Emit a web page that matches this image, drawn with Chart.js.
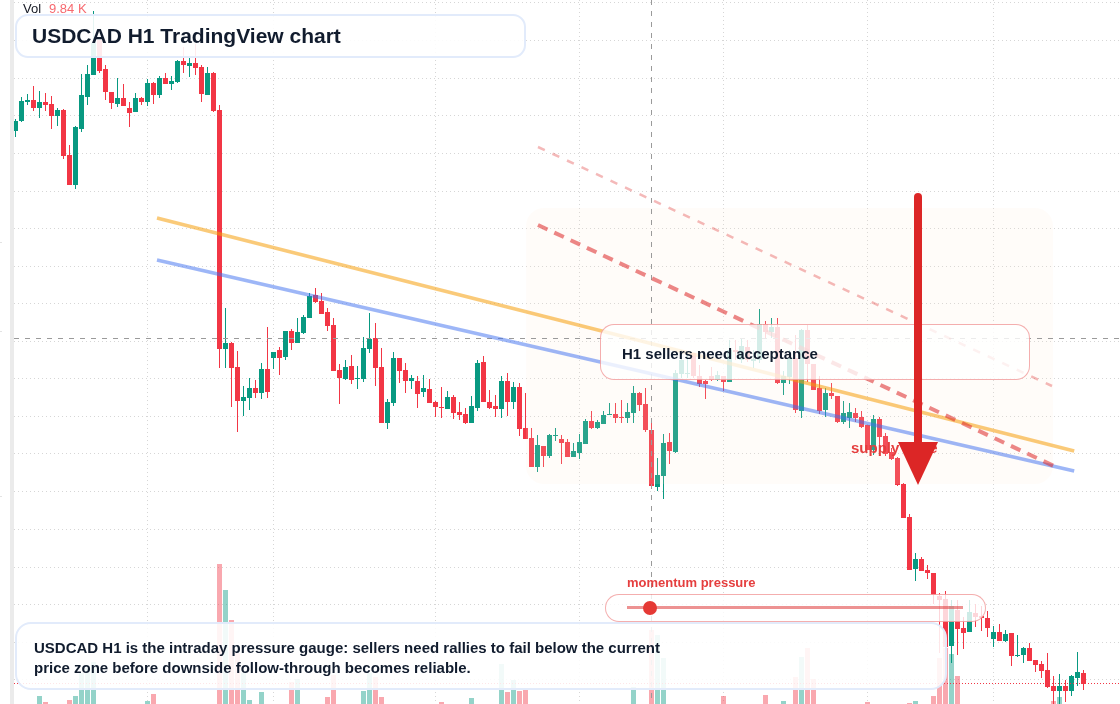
<!DOCTYPE html>
<html>
<head>
<meta charset="utf-8">
<title>USDCAD H1 TradingView chart</title>
<script src="https://cdn.jsdelivr.net/npm/chart.js@4/dist/chart.umd.min.js"></script>
<style>
  html, body { margin: 0; padding: 0; background: #fff; overflow: hidden; }
  body { width: 1120px; height: 704px; position: relative; font-family: "Liberation Sans", Arial, sans-serif; }
  #totalChart { position: absolute; left: 14px; top: 0; }
  #strip { position: absolute; left: 10px; top: 0; width: 4px; height: 704px; background: #ebebeb; }
  .tick { position: absolute; left: 0; width: 2px; height: 1px; background: #e3e3e3; }
  .box { position: absolute; box-sizing: border-box; }
  .txt { position: absolute; white-space: nowrap; font-weight: bold; }
  #arrow { position: absolute; left: 0; top: 0; }
</style>
</head>
<body>
<div id="strip"></div>
<div class="tick" style="top:242px"></div>
<div class="tick" style="top:331px"></div>
<div class="tick" style="top:496px"></div>
<canvas id="totalChart" width="1106" height="704"></canvas>

<div class="txt" style="left:23px;top:1px;font-size:13px;line-height:15px;font-weight:normal;color:#131722">Vol</div>
<div class="txt" style="left:49px;top:1px;font-size:13px;line-height:15px;font-weight:normal;color:#f7696f">9.84 K</div>

<div class="txt" style="left:851px;top:439px;font-size:15px;line-height:18px;color:#e53e3e">supply zone</div>

<div class="box" style="left:15px;top:14px;width:511px;height:44px;border:2px solid #e2ebfb;border-radius:13px;background:rgba(255,255,255,.9)"></div>
<div class="txt" style="left:32px;top:22px;font-size:21px;line-height:28px;color:#111c2e">USDCAD H1 TradingView chart</div>

<div class="box" style="left:600px;top:324px;width:430px;height:56px;border:1.5px solid rgba(229,62,62,.42);border-radius:14px;background:rgba(255,255,255,.8)"></div>
<div class="txt" style="left:622px;top:345px;font-size:15px;line-height:18px;color:#111c2e">H1 sellers need acceptance</div>

<div class="txt" style="left:627px;top:575px;font-size:13px;line-height:16px;color:#e53e3e">momentum pressure</div>
<div class="box" style="left:605px;top:594px;width:381px;height:28px;border:1.5px solid rgba(229,62,62,.42);border-radius:14px;background:rgba(255,255,255,.8)"></div>

<div class="box" style="left:15px;top:622px;width:932px;height:68px;border:2px solid #e2ebfb;border-radius:16px;background:rgba(255,255,255,.88)"></div>
<div class="txt" style="left:34px;top:638px;font-size:15px;line-height:20px;color:#111c2e">USDCAD H1 is the intraday pressure gauge: sellers need rallies to fail below the current<br>price zone before downside follow-through becomes reliable.</div>

<svg id="arrow" width="1120" height="704">
  <line x1="627" y1="607.5" x2="963" y2="607.5" stroke="rgba(220,38,38,.5)" stroke-width="3"/>
  <circle cx="650" cy="608" r="7" fill="#e53935"/>
  <line x1="918" y1="197" x2="918" y2="445" stroke="#dc2626" stroke-width="8" stroke-linecap="round"/>
  <polygon points="898,442 938,442 918,485" fill="#dc2626"/>
</svg>

<script>
// candles, in pipettes above 1.37000
var open_ = [869,879,898,900,892,898,896,884,890,845,
  815,871,903,925,960,931,908,896,902,892,
  888,902,898,917,905,922,916,918,939,934,
  937,933,905,927,890,651,657,633,599,602,
  612,607,631,642,650,643,669,657,667,682,
  705,699,688,675,630,621,634,621,621,651,
  662,633,577,597,642,630,619,619,608,611,
  598,593,591,603,588,586,577,592,638,598,
  594,591,619,598,613,572,562,533,554,544,
  564,561,558,543,547,556,579,572,576,585,
  586,583,582,587,607,596,570,513,524,558,
  548,626,626,647,624,619,624,620,624,618,
  650,640,653,639,640,676,668,673,617,623,
  642,589,670,636,612,590,607,604,578,582,
  587,583,575,550,581,564,548,542,516,483,
  431,441,430,427,404,401,354,390,372,368,
  387,384,382,361,368,359,367,344,345,352,
  340,336,330,314,309,314,309,322,327];
var high = [881,903,906,914,909,907,904,892,891,855,
  874,926,935,989,960,935,908,922,916,898,
  907,903,921,918,924,927,924,940,953,944,
  956,935,933,928,895,692,658,649,614,622,
  620,637,673,648,653,669,671,682,685,707,
  712,707,692,682,636,640,645,634,663,687,
  677,652,601,648,642,637,625,624,625,621,
  599,613,609,605,598,592,604,640,644,610,
  605,624,627,618,617,607,572,565,554,566,
  572,565,561,557,566,581,589,580,589,597,
  597,600,597,614,608,612,580,542,566,567,
  630,650,648,647,635,620,633,629,624,660,
  660,662,660,650,691,679,682,682,629,650,
  665,671,675,636,624,612,617,604,599,597,
  592,589,575,585,583,567,552,543,517,486,
  447,443,435,427,407,409,400,400,383,400,
  396,394,389,374,376,370,367,365,353,357,
  340,339,347,324,326,320,325,348,330];
var low = [863,878,895,889,882,889,871,874,841,815,
  811,868,895,925,927,900,891,893,894,873,
  888,895,894,896,902,916,910,917,927,923,
  925,898,905,888,632,632,593,568,584,590,
  602,601,602,631,625,640,650,657,666,682,
  697,686,669,629,596,620,616,611,618,647,
  614,577,571,594,617,607,611,592,603,597,
  583,582,591,581,580,576,577,589,598,591,
  583,582,584,591,564,561,533,528,533,542,
  559,536,543,543,541,556,571,571,576,585,
  577,577,577,577,589,568,514,509,501,536,
  547,622,622,622,613,601,619,619,609,618,
  640,637,638,632,637,662,662,616,605,616,
  587,582,618,610,586,583,601,577,576,572,
  578,572,550,545,544,544,540,514,482,430,
  419,429,421,396,347,353,337,345,351,368,
  373,369,363,353,359,358,334,343,337,339,
  328,322,312,296,296,298,304,314,310];
var close_ = [879,899,900,892,898,895,884,890,844,815,
  873,905,926,957,929,908,897,902,894,887,
  902,898,917,905,922,916,919,939,935,937,
  932,906,927,889,651,657,632,599,603,612,
  607,631,608,648,642,669,657,668,683,704,
  698,686,674,629,622,633,620,622,652,661,
  632,577,598,642,629,619,622,606,612,597,
  593,592,603,587,585,577,594,637,598,592,
  591,619,598,613,571,561,533,555,544,565,
  565,557,543,549,558,579,572,578,585,586,
  582,582,588,607,595,570,514,525,557,549,
  627,640,627,624,616,616,620,625,618,650,
  648,654,640,641,676,668,673,617,624,642,
  590,670,636,610,589,607,604,578,587,588,
  582,573,550,581,563,546,541,515,482,430,
  441,429,427,405,400,353,394,371,367,388,
  383,382,372,368,359,366,344,345,352,339,
  335,329,313,309,314,309,324,328,316];
// volume in thousands, null = bar ends below the frame
var volume = [null,null,null,null,12.8,11.6,null,null,null,12,
  12.8,17.4,18.4,19.6,null,null,null,null,null,null,
  null,null,11.8,13.2,null,null,null,null,null,null,
  null,null,null,null,39.2,34,28,21.4,17.4,12,
  null,13.6,null,null,null,null,15.6,16.2,null,null,
  null,null,12.6,17,null,null,null,null,13.8,17.4,
  16.6,12.6,null,null,null,null,null,null,null,null,
  null,11.6,null,null,null,null,12.4,null,null,null,
  null,19.2,13.6,16,13.8,14,null,null,null,null,
  null,null,null,null,null,null,null,null,null,null,
  null,null,null,14.6,null,null,26,25,20.4,null,
  null,null,null,null,null,null,null,null,12.8,null,
  null,null,null,null,null,13,null,null,11.8,null,
  16.6,20.6,22.4,16.2,null,null,null,null,null,null,
  null,null,11.6,null,null,null,null,null,null,11.4,
  11.8,null,null,12.8,20.4,22.4,21.2,16.8,null,null,
  null,null,null,null,null,null,null,null,null,null,
  null,null,null,11.8,12.6,null,null,null,9.84];

// guide lines: [bar, pipettes]
var resistance = [[23.58,782],[176.45,549]];
var support = [[23.58,740],[176.45,529]];
var zoneLine = [[87.08,775],[173.08,534]];
var upperLine = [[87.08,853],[172.75,614]];
var crossBar = 106;
var crossPrice = 661.5;
var lastPrice = 316.5;
var zone = {from: 85.1, to: 172.9, top: 792, bottom: 516};

// where the dotted grid sits
var gridBars = [22,43,70,94,118,142,163];
var gridPrices = [997.5,959.5,921.5,884.5,846.5,808.5,771.5,733.5,696.5,658.5,621.5,583.5,546.5,508.5,470.5,432.5,395.5,357.5,320.5];

var labels = open_.map(function(v, i){ return i; });
var GREEN = '#089981', RED = '#f23645';
var isUp = close_.map(function(c, i){ return c >= open_[i]; });

function pairs(a, b){ return a.map(function(v, i){ return [v, b[i]]; }); }
function pts(list){ return list.map(function(p){ return {x: p[0], y: p[1]}; }); }

function guide(list, color, width, dash, order){
  return {type: 'line', data: pts(list), borderColor: color, borderWidth: width, borderDash: dash,
    pointRadius: 0, order: order, tension: 0, fill: false};
}

// pale zone goes under the guide lines, over the candles
var zonePlugin = {
  id: 'zoneShade',
  beforeDatasetDraw: function(chart, args){
    if (args.index !== 3) return;
    var x = chart.scales.x, y = chart.scales.y, c = chart.ctx;
    var l = x.getPixelForValue(zone.from), r = x.getPixelForValue(zone.to);
    var t = y.getPixelForValue(zone.top), b = y.getPixelForValue(zone.bottom);
    c.save();
    c.fillStyle = 'rgba(255,237,213,0.14)';
    c.beginPath();
    c.roundRect(l, t, r - l, b - t, 18);
    c.fill();
    c.restore();
  }
};

var ctx = document.getElementById('totalChart');
var totalChart = new Chart(ctx, {
  type: 'bar',
  plugins: [zonePlugin],
  data: {
    labels: labels,
    datasets: [
      {label: 'Volume', data: volume, yAxisID: 'v', grouped: false, barThickness: 5, inflateAmount: 0, order: 50,
        backgroundColor: isUp.map(function(u){ return u ? 'rgba(8,153,129,0.43)' : 'rgba(242,54,69,0.43)'; })},
      {label: 'Wick', data: pairs(low, high), grouped: false, barThickness: 1, inflateAmount: 0, order: 40,
        backgroundColor: isUp.map(function(u){ return u ? GREEN : RED; })},
      {label: 'Body', data: pairs(open_, close_), grouped: false, barThickness: 5, inflateAmount: 0, order: 30,
        backgroundColor: isUp.map(function(u){ return u ? GREEN : RED; })},
      guide([[-0.25,lastPrice],[184.08,lastPrice]], RED, 1, [1,2], 20),
      guide([[-0.25,crossPrice],[184.08,crossPrice]], '#9a9a9a', 1, [5,6], 19),
      guide([[crossBar,1000],[crossBar,296]], '#9a9a9a', 1, [5,6], 18),
      guide(resistance, 'rgba(245,158,11,0.55)', 3.5, [], 10),
      guide(support, 'rgba(59,110,240,0.5)', 3.5, [], 9),
      guide(zoneLine, 'rgba(220,38,38,0.55)', 4, [10.5,7.5], 8),
      guide(upperLine, 'rgba(220,38,38,0.32)', 2.5, [7.5,8.5], 7)
    ]
  },
  options: {
    responsive: false,
    animation: false,
    maintainAspectRatio: false,
    layout: {padding: 0},
    plugins: {legend: {display: false}, tooltip: {enabled: false}, title: {display: false}},
    scales: {
      x: {
        type: 'linear', min: -0.25, max: 184.0833, offset: false,
        grid: {color: '#d6d6d6', offset: false, drawTicks: false},
        border: {display: false, dash: [1,3]},
        ticks: {display: false},
        afterBuildTicks: function(axis){ axis.ticks = gridBars.map(function(v){ return {value: v}; }); }
      },
      y: {
        min: 296, max: 1000,
        grid: {color: '#d6d6d6', drawTicks: false},
        border: {display: false, dash: [1,3]},
        ticks: {display: false},
        afterBuildTicks: function(axis){ axis.ticks = gridPrices.map(function(v){ return {value: v}; }); }
      },
      v: {display: false, min: 11.2, max: 152}
    }
  }
});
</script>
</body>
</html>
